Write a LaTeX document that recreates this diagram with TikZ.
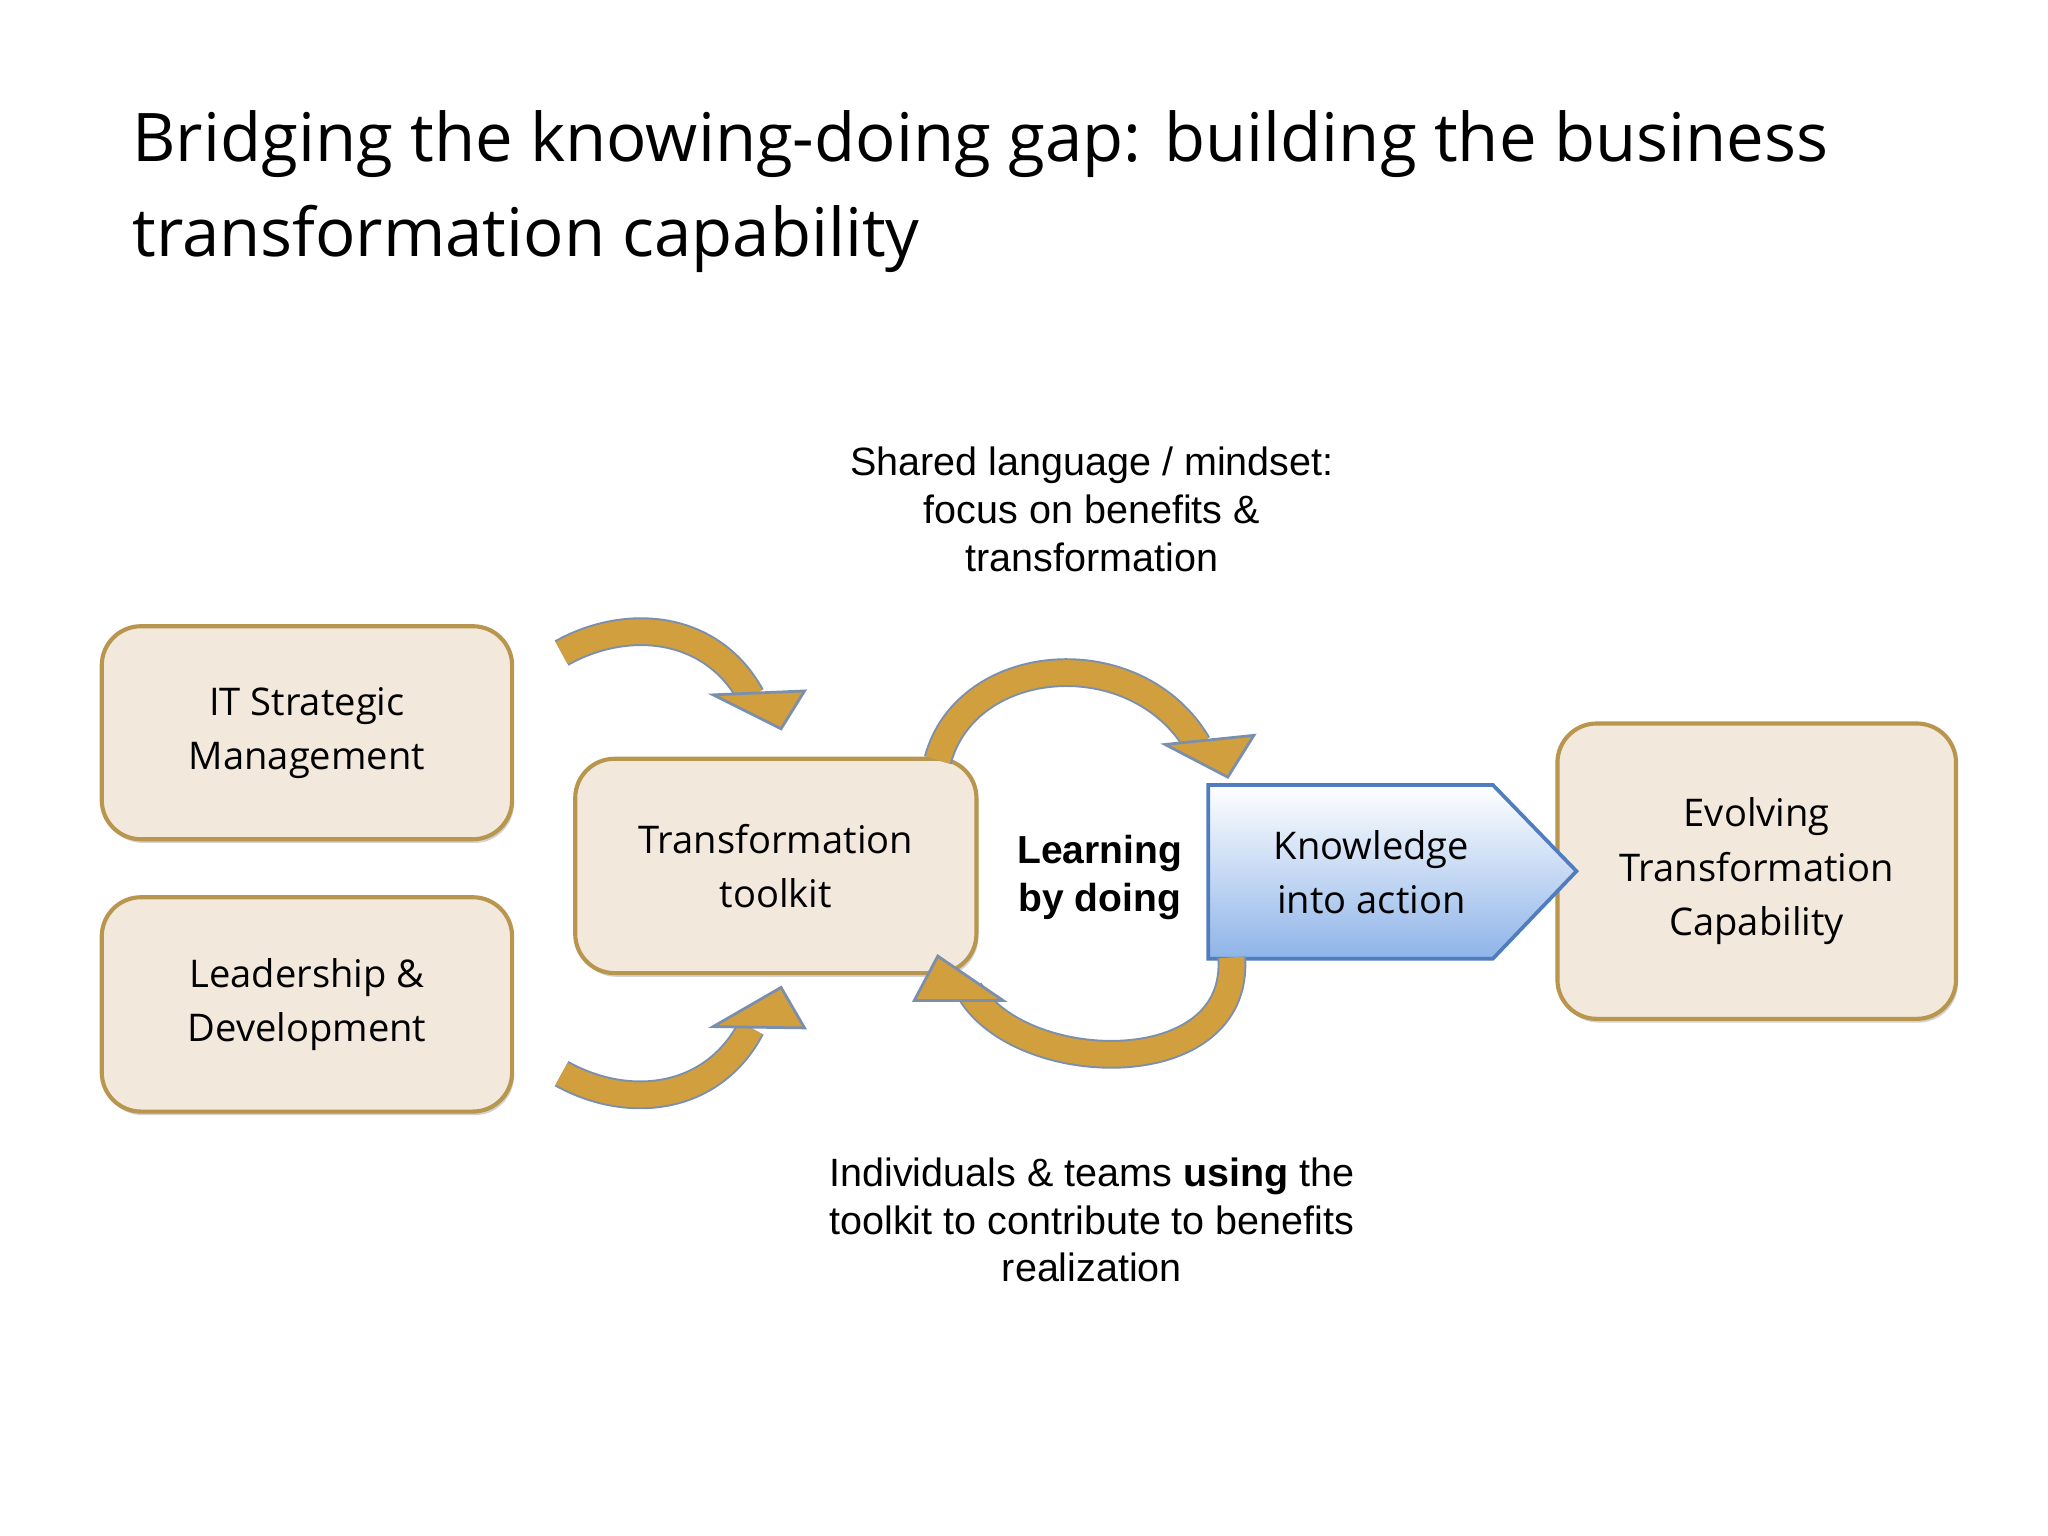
\documentclass[tikz,border=0pt]{standalone}
\usepackage{fontspec}
\setmainfont{Open Sans}
\newfontfamily\arialf{Liberation Sans}
\usetikzlibrary{shadows}
\definecolor{boxfill}{HTML}{F2E8DC}
\definecolor{boxdraw}{HTML}{B8964E}
\definecolor{gold}{HTML}{D29F3E}
\definecolor{goldline}{HTML}{7A8FAE}
\definecolor{bluedraw}{HTML}{4F7DBD}
\definecolor{bluebot}{HTML}{8EB4E8}
\tikzset{
 tbox/.style={draw=boxdraw,line width=0.9pt,fill=boxfill,rounded corners=0.3cm,align=center,
   font=\fontsize{8.3}{11.8}\selectfont,drop shadow={shadow xshift=0.4pt,shadow yshift=-0.8pt,opacity=0.35}},
 ann/.style={align=center,font=\arialf\fontsize{8.6}{10.4}\selectfont},
 bodyo/.style={line width=0.22cm,draw=goldline},
 bodyi/.style={line width=0.19cm,draw=gold},
 headst/.style={fill=gold,draw=goldline,line width=0.6pt,line join=miter}
}
\begin{document}
\begin{tikzpicture}[x=0.01cm,y=-0.01cm]
\useasboundingbox[fill=white] (0,0) rectangle (1568,1176);
\node[anchor=west,align=left,font=\fontsize{14.6}{20.7}\selectfont] (title) at (89,147)
 {Bridging the knowing-doing gap: building the business\\transformation capability};

\node[tbox,minimum width=3.14cm,minimum height=1.63cm] (it) at (235,561) {IT Strategic\\Management};
\node[tbox,minimum width=3.14cm,minimum height=1.64cm] (ld) at (235,769) {Leadership \&\\Development};
\node[tbox,minimum width=3.07cm,minimum height=1.64cm] (tt) at (594,663) {Transformation\\toolkit};
\node[tbox,minimum width=3.05cm,minimum height=2.26cm] (ev) at (1345,667) {Evolving\\Transformation\\Capability};

% Knowledge into action pentagon
\shade[top color=white,bottom color=bluebot,draw=bluedraw,line width=0.8pt]
 (925,601) -- (1143,601) -- (1207,667) -- (1143,734) -- (925,734) -- cycle;
\node[font=\fontsize{8.3}{11.8}\selectfont,align=center] (ka) at (1050,668) {Knowledge\\into action};

\node[font=\arialf\bfseries\fontsize{8.5}{10.4}\selectfont,align=center] (lbd) at (842,672) {Learning\\by doing};
\node[ann] (top) at (836,390) {Shared language / mindset:\\focus on benefits \&\\transformation};
\node[ann] (bot) at (836,934) {Individuals \& teams \textbf{using} the\\toolkit to contribute to benefits\\realization};

% top-left arrow
\draw[bodyo] (430,500) .. controls (480,472) and (545,478) .. (575,533);
\draw[bodyi] (430,500) .. controls (480,472) and (545,478) .. (575,533);
\draw[headst] (546,532) -- (616,529) -- (598,558) -- cycle;
% bottom-left arrow
\draw[bodyo] (430,822) .. controls (480,850) and (545,844) .. (575,787);
\draw[bodyi] (430,822) .. controls (480,850) and (545,844) .. (575,787);
\draw[headst] (546,786) -- (616,787) -- (598,756) -- cycle;
% top loop
\draw[bodyo] (718,582) .. controls (740,500) and (870,490) .. (917,570);
\draw[bodyi] (718,582) .. controls (740,500) and (870,490) .. (917,570);
\draw[headst] (892,570) -- (960,563) -- (940,595) -- cycle;
% bottom loop
\draw[bodyo] (943,733) .. controls (950,830) and (780,825) .. (742,758);
\draw[bodyi] (943,733) .. controls (950,830) and (780,825) .. (742,758);
\draw[headst] (718,732) -- (700,766) -- (768,766) -- cycle;
\end{tikzpicture}
\end{document}
